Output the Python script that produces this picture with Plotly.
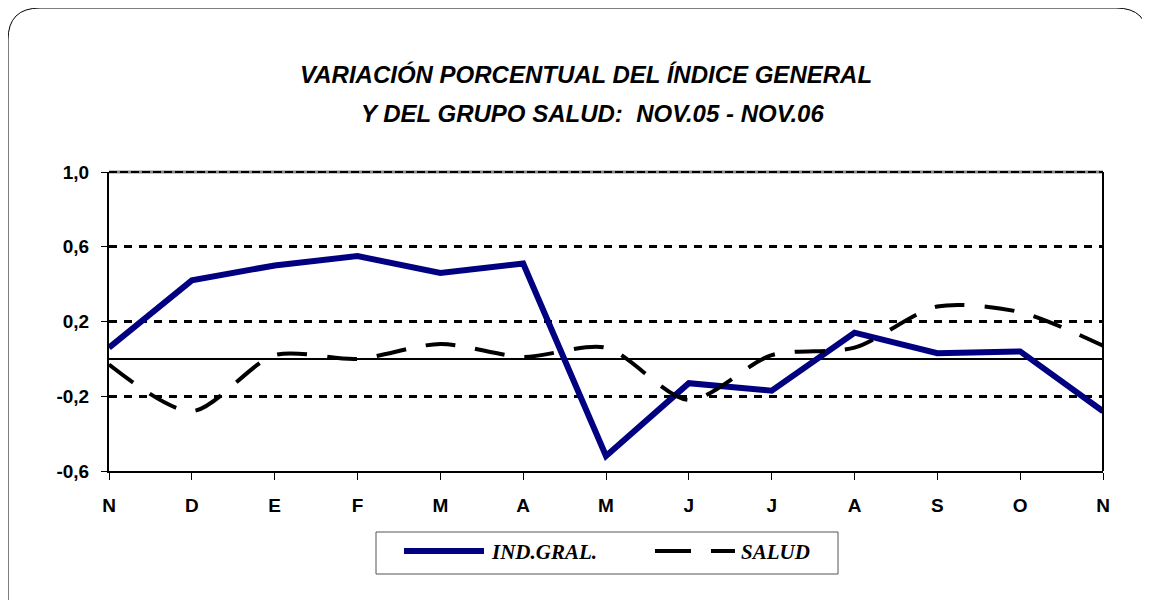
import plotly.graph_objects as go

months = ["N", "D", "E", "F", "M", "A", "M", "J", "J", "A", "S", "O", "N"]
ind_gral = [0.06, 0.42, 0.50, 0.55, 0.46, 0.51, -0.52, -0.13, -0.17, 0.14, 0.03, 0.04, -0.28]
salud = [-0.03, -0.28, 0.02, 0.00, 0.08, 0.01, 0.06, -0.22, 0.02, 0.06, 0.28, 0.25, 0.07]
y_ticks = [-0.6, -0.2, 0.2, 0.6, 1.0]

OFF = 8  # page body margin
W, H = 1150 - OFF, 600 - OFF
# plot area in page pixels
L, R, T, B = 109, 1103, 172, 471

def px(x):
    return (x - L) / (R - L)

def py(y):
    return (B - y) / (B - T)

x_idx = list(range(len(months)))

fig = go.Figure()
fig.add_trace(go.Scatter(x=x_idx, y=ind_gral, mode="lines", name="IND.GRAL.",
                         line=dict(color="#000080", width=6), showlegend=False))
fig.add_trace(go.Scatter(x=x_idx, y=salud, mode="lines", name="SALUD",
                         line=dict(color="black", width=4, dash="30px,20px", shape="spline", smoothing=0.8),
                         showlegend=False))

shapes = []
# outer rounded frame
x0, y0, x1, y1, r = 8, 8, 1148, 640, 32
path = (f"M {px(x0)},{py(y1)} L {px(x0)},{py(y0 + r)} "
        f"Q {px(x0)},{py(y0)} {px(x0 + r)},{py(y0)} "
        f"L {px(x1 - r)},{py(y0)} Q {px(x1)},{py(y0)} {px(x1)},{py(y0 + r)} "
        f"L {px(x1)},{py(y1)}")
shapes.append(dict(type="path", xref="paper", yref="paper", path=path,
                   line=dict(color="black", width=1)))
# top border (dashed) and right border of plot
shapes.append(dict(type="line", xref="paper", yref="paper", x0=0, x1=1, y0=1, y1=1,
                   line=dict(color="#888", width=3)))
shapes.append(dict(type="line", xref="paper", yref="paper", x0=0, x1=1, y0=1, y1=1,
                   line=dict(color="black", width=2, dash="8px,3px")))
shapes.append(dict(type="line", xref="paper", yref="paper", x0=1, x1=1, y0=0, y1=1,
                   line=dict(color="black", width=2)))
# legend box
lx0, ly0, lx1, ly1 = 376, 532, 838, 574
shapes.append(dict(type="rect", xref="paper", yref="paper",
                   x0=px(lx0), x1=px(lx1), y0=py(ly1), y1=py(ly0),
                   line=dict(color="#555", width=1), fillcolor="white"))
ly = 551
shapes.append(dict(type="line", xref="paper", yref="paper", x0=px(404), x1=px(484), y0=py(ly), y1=py(ly),
                   line=dict(color="#000080", width=6)))
shapes.append(dict(type="line", xref="paper", yref="paper", x0=px(655), x1=px(691), y0=py(ly), y1=py(ly),
                   line=dict(color="black", width=4)))
shapes.append(dict(type="line", xref="paper", yref="paper", x0=px(711), x1=px(735), y0=py(ly), y1=py(ly),
                   line=dict(color="black", width=4)))

annotations = [
    dict(text="<b><i>IND.GRAL.</i></b>", xref="paper", yref="paper", x=px(489), y=py(ly + 1),
         xanchor="left", yanchor="middle", showarrow=False,
         font=dict(family="Liberation Serif, Times New Roman, serif", size=21, color="black")),
    dict(text="<b><i>SALUD</i></b>", xref="paper", yref="paper", x=px(739), y=py(ly + 1),
         xanchor="left", yanchor="middle", showarrow=False,
         font=dict(family="Liberation Serif, Times New Roman, serif", size=21, color="black")),
    dict(text="<b><i>VARIACIÓN PORCENTUAL DEL ÍNDICE GENERAL</i></b>", xref="paper", yref="paper",
         x=px(586), y=py(74), xanchor="center", yanchor="middle", showarrow=False,
         font=dict(family="Liberation Sans, Arial", size=24, color="black")),
    dict(text="<b><i>Y DEL GRUPO SALUD:  NOV.05 - NOV.06</i></b>", xref="paper", yref="paper",
         x=px(592), y=py(114), xanchor="center", yanchor="middle", showarrow=False,
         font=dict(family="Liberation Sans, Arial", size=24, color="black")),
]

fig.update_layout(
    width=W, height=H,
    margin=dict(l=L - OFF, r=W - (R - OFF), t=T - OFF, b=H - (B - OFF), pad=0),
    paper_bgcolor="white", plot_bgcolor="white",
    separators=",.",
    shapes=shapes, annotations=annotations,
    xaxis=dict(range=[0, len(months) - 1], tickmode="array", tickvals=x_idx,
               ticktext=[f"<b>{m}</b>" for m in months],
               showgrid=False, zeroline=False, showline=True, linecolor="black", linewidth=2,
               ticks="outside", ticklen=7, tickcolor="black", tickwidth=1,
               tickfont=dict(family="Liberation Sans, Arial", size=19, color="black"),
               ticklabelstandoff=9),
    yaxis=dict(range=[-0.6, 1.0], tickmode="array", tickvals=y_ticks,
               ticktext=[f"<b>{v:.1f}</b>".replace(".", ",") for v in y_ticks],
               showgrid=True, gridcolor="black", gridwidth=2.5, griddash="8px,7px",
               zeroline=True, zerolinecolor="black", zerolinewidth=1.5,
               showline=True, linecolor="black", linewidth=2,
               ticks="outside", ticklen=6, tickcolor="black", tickwidth=1,
               tickfont=dict(family="Liberation Sans, Arial", size=19, color="black"),
               ticklabelstandoff=8),
    font=dict(family="Liberation Sans, Arial", color="black"),
)

fig.write_html("out.html")
